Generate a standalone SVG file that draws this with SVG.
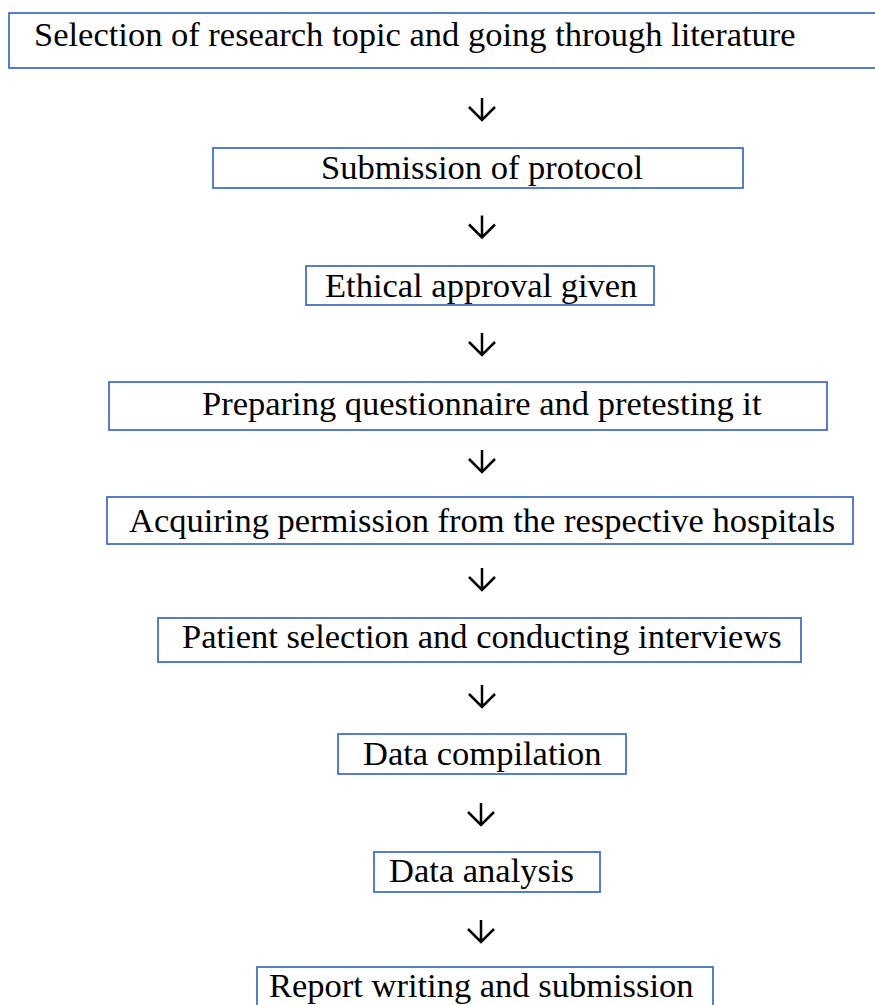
<svg xmlns="http://www.w3.org/2000/svg" width="875" height="1005" viewBox="0 0 875 1005">
<style>
.box{fill:#fff;stroke:#4472C4;stroke-width:1.8}
.lbl{font-family:"Liberation Serif","Times New Roman",serif;font-size:34.5px;fill:#000}
.arr{fill:none;stroke:#000;stroke-width:2.5}
</style>
<rect width="875" height="1005" fill="#fff"/>
<g id="n1"><rect class="box" x="9" y="13" width="880" height="55"/><text class="lbl" x="34" y="46">Selection of research topic and going through literature</text></g>
<g id="n2"><rect class="box" x="213" y="148" width="530" height="40"/><text class="lbl" x="321" y="179">Submission of protocol</text></g>
<g id="n3"><rect class="box" x="306" y="266" width="348" height="39"/><text class="lbl" x="325" y="297">Ethical approval given</text></g>
<g id="n4"><rect class="box" x="109" y="382" width="718" height="48"/><text class="lbl" x="202" y="415">Preparing questionnaire and pretesting it</text></g>
<g id="n5"><rect class="box" x="107" y="497" width="746" height="47"/><text class="lbl" x="129" y="532">Acquiring permission from the respective hospitals</text></g>
<g id="n6"><rect class="box" x="158" y="618" width="643" height="44"/><text class="lbl" x="182" y="648">Patient selection and conducting interviews</text></g>
<g id="n7"><rect class="box" x="338" y="734" width="288" height="40"/><text class="lbl" x="363" y="765">Data compilation</text></g>
<g id="n8"><rect class="box" x="374" y="852" width="226" height="40"/><text class="lbl" x="389" y="882">Data analysis</text></g>
<g id="n9"><rect class="box" x="257" y="967" width="456" height="50"/><text class="lbl" x="269" y="997">Report writing and submission</text></g>
<g id="connectors">
<path class="arr" d="M482 98V120M469 107L482 120L495 107"/>
<path class="arr" d="M482 215.5V237.5M469 224.5L482 237.5L495 224.5"/>
<path class="arr" d="M482 333V355M469 342L482 355L495 342"/>
<path class="arr" d="M482 450V472M469 459L482 472L495 459"/>
<path class="arr" d="M482 568V590M469 577L482 590L495 577"/>
<path class="arr" d="M482 685V707M469 694L482 707L495 694"/>
<path class="arr" d="M481 803V825M468 812L481 825L494 812"/>
<path class="arr" d="M481 920V942M468 929L481 942L494 929"/>
</g>
</svg>
